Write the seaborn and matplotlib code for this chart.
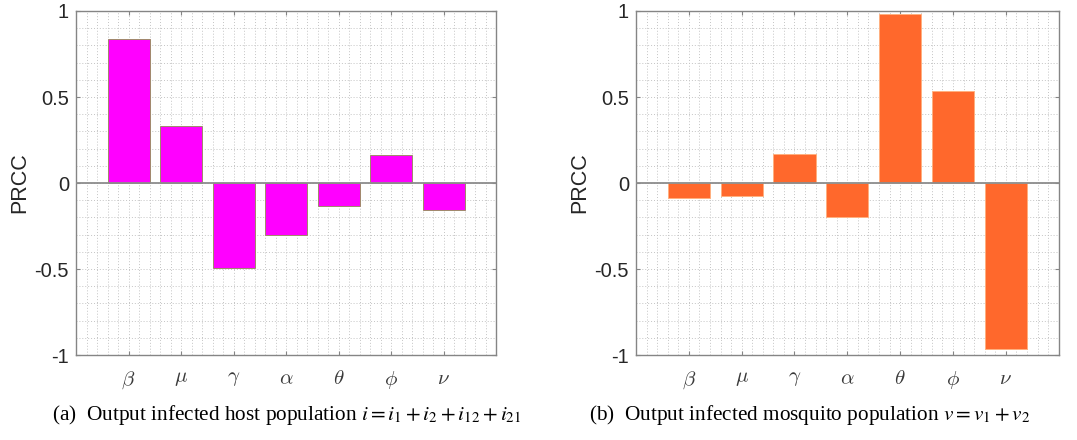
import numpy as np
import pandas as pd
import matplotlib
matplotlib.use("Agg")
import matplotlib.pyplot as plt
import seaborn as sns
from matplotlib.ticker import MultipleLocator

# Parameters and PRCC values
params = [r"$\beta$", r"$\mu$", r"$\gamma$", r"$\alpha$", r"$\theta$", r"$\phi$", r"$\nu$"]
prcc_host = [0.837, 0.33, -0.496, -0.304, -0.134, 0.161, -0.157]
prcc_mosquito = [-0.089, -0.078, 0.169, -0.198, 0.983, 0.535, -0.967]

y_ticks = [-1, -0.5, 0, 0.5, 1]
y_tick_labels = ["-1", "-0.5", "0", "0.5", "1"]

caption_a = r"(a)  Output infected host population $i = i_1 + i_2 + i_{12} + i_{21}$"
caption_b = r"(b)  Output infected mosquito population $v = v_1 + v_2$"

sns.set_theme(style="white")
plt.rcParams["font.family"] = ["Liberation Sans", "DejaVu Sans"]

fig = plt.figure(figsize=(10.77, 4.40), dpi=100)
ax_a = fig.add_axes([0.0706, 0.193, 0.3900, 0.782])
ax_b = fig.add_axes([0.5905, 0.193, 0.3925, 0.782])

axis_gray = "#858585"
text_dark = "#262626"


def draw_panel(ax, values, color, edge):
    df = pd.DataFrame({"param": params, "prcc": values})
    ax.set_axisbelow(True)
    sns.barplot(data=df, x="param", y="prcc", color=color, saturation=1,
                width=0.8, edgecolor=edge, linewidth=0.7, ax=ax, zorder=2)
    ax.axhline(0, color="#8c8c8c", lw=1.3, zorder=3)
    ax.set_xlim(-1, 7)
    ax.set_ylim(-1, 1)
    ax.set_xticks(range(len(params)))
    ax.set_xticklabels(params, fontsize=15, color="#3a3a3a",
                       math_fontfamily="cm")
    ax.set_yticks(y_ticks)
    ax.set_yticklabels(y_tick_labels, fontsize=14.5, color=text_dark)
    ax.xaxis.set_minor_locator(MultipleLocator(0.2))
    ax.yaxis.set_minor_locator(MultipleLocator(0.1))
    ax.grid(which="both", linestyle=(0, (1, 2)), color="#c4c4c4", lw=0.7)
    ax.tick_params(which="major", direction="in", length=3, width=0.8,
                   color=axis_gray, top=True, right=True, bottom=True, left=True)
    ax.tick_params(axis="x", which="major", pad=10)
    ax.tick_params(axis="y", which="major", pad=5)
    ax.tick_params(which="minor", length=0)
    for sp in ax.spines.values():
        sp.set_color(axis_gray)
        sp.set_linewidth(1.0)
        sp.set_visible(True)
    ax.set_xlabel("")
    ax.set_ylabel("PRCC", fontsize=15.5, color=text_dark, labelpad=3)


draw_panel(ax_a, prcc_host, "#ff00ff", "#a08a6a")
draw_panel(ax_b, prcc_mosquito, "#ff682c", "#ffb080")

fig.text(0.266, 0.057, caption_a, ha="center", va="center", fontsize=15.3,
         family="Liberation Serif", math_fontfamily="stix", color="black")
fig.text(0.7516, 0.057, caption_b, ha="center", va="center", fontsize=15.3,
         family="Liberation Serif", math_fontfamily="stix", color="black")

fig.savefig("out.png", dpi=100, facecolor="white")
